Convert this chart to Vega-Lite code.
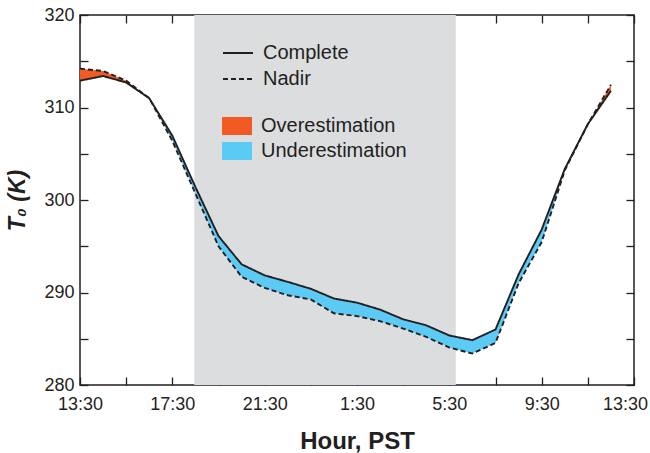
{
  "$schema": "https://vega.github.io/schema/vega-lite/v6.json",
  "width": 554,
  "height": 370,
  "autosize": {"type": "none"},
  "padding": {"left": 80, "top": 15, "right": 16, "bottom": 68},
  "background": "white",
  "config": {
    "font": "Liberation Sans",
    "view": {"stroke": "#231f20", "strokeWidth": 1.5},
    "axis": {"grid": false, "domain": false, "tickColor": "#231f20", "tickWidth": 1.3, "tickSize": -8, "labelColor": "#231f20", "titleColor": "#231f20", "labelFontSize": 18, "titleFontSize": 24, "titleFontWeight": "bold"},
    "legend": {"labelFontSize": 20, "labelColor": "#231f20", "padding": 0, "offset": 0}
  },
  "datasets": {
    "temps": [
      {"hour": 0, "Complete": 312.9, "Nadir": 314.2},
      {"hour": 1, "Complete": 313.4, "Nadir": 313.95},
      {"hour": 2, "Complete": 312.7, "Nadir": 312.9},
      {"hour": 3, "Complete": 311.0, "Nadir": 311.0},
      {"hour": 4, "Complete": 306.95, "Nadir": 306.4},
      {"hour": 5, "Complete": 301.4, "Nadir": 300.7},
      {"hour": 6, "Complete": 296.1, "Nadir": 295.0},
      {"hour": 7, "Complete": 293.05, "Nadir": 291.7},
      {"hour": 8, "Complete": 291.85, "Nadir": 290.5},
      {"hour": 9, "Complete": 291.15, "Nadir": 289.7},
      {"hour": 10, "Complete": 290.4, "Nadir": 289.25},
      {"hour": 11, "Complete": 289.35, "Nadir": 287.75},
      {"hour": 12, "Complete": 288.9, "Nadir": 287.45},
      {"hour": 13, "Complete": 288.15, "Nadir": 286.9},
      {"hour": 14, "Complete": 287.1, "Nadir": 286.1},
      {"hour": 15, "Complete": 286.45, "Nadir": 285.2},
      {"hour": 16, "Complete": 285.35, "Nadir": 284.05},
      {"hour": 17, "Complete": 284.85, "Nadir": 283.4},
      {"hour": 18, "Complete": 286.0, "Nadir": 284.55},
      {"hour": 19, "Complete": 291.95, "Nadir": 291.0},
      {"hour": 20, "Complete": 296.8, "Nadir": 295.45},
      {"hour": 21, "Complete": 303.35, "Nadir": 303.2},
      {"hour": 22, "Complete": 308.2, "Nadir": 308.2},
      {"hour": 23, "Complete": 311.8, "Nadir": 312.45}
    ],
    "night": [{"start": 4.95, "end": 16.28}]
  },
  "layer": [
    {
      "layer": [
        {
          "data": {"name": "night"},
          "mark": {"type": "rect", "color": "#dcdddf"},
          "encoding": {
            "x": {"field": "start", "type": "quantitative", "scale": {"domain": [0, 24], "nice": false, "zero": false},
              "axis": {"values": [0, 2, 4, 6, 8, 10, 12, 14, 16, 18, 20, 22, 24], "labelExpr": "datum.value % 4 == 0 ? ((13 + datum.value) % 24) + ':30' : ''", "title": "Hour, PST", "labelPadding": 18, "titlePadding": 16, "labelFlush": false,
                "labelOffset": {"condition": {"test": "datum.value == 24", "value": -9}, "value": 0}}},
            "x2": {"field": "end"},
            "y": {"datum": 320, "type": "quantitative", "scale": {"domain": [280, 320], "nice": false, "zero": false},
              "axis": {"values": [280, 285, 290, 295, 300, 305, 310, 315, 320], "labelExpr": "datum.value % 10 == 0 ? datum.label : ''", "title": "T₀ (K)", "titleFontStyle": "italic", "titleFontSize": 23, "labelPadding": 14, "titlePadding": 14, "labelFlush": false}},
            "y2": {"datum": 280}
          }
        },
        {
          "data": {"name": "temps"},
          "transform": [{"filter": "datum.hour <= 3"}],
          "mark": {"type": "area", "opacity": 1},
          "encoding": {
            "x": {"field": "hour", "type": "quantitative"},
            "y": {"field": "Complete", "type": "quantitative"},
            "y2": {"field": "Nadir"},
            "color": {"datum": "Overestimation", "type": "nominal", "scale": {"domain": ["Overestimation", "Underestimation"], "range": ["#f15a22", "#5bcbf5"]},
              "legend": {"title": null, "orient": "none", "legendX": 142, "legendY": 96, "symbolType": "M-1,-0.6H1V0.6H-1Z", "symbolSize": 900, "symbolStrokeWidth": 0, "symbolOpacity": 1, "labelOffset": 9, "rowPadding": 0}}
          }
        },
        {
          "data": {"name": "temps"},
          "transform": [{"filter": "datum.hour >= 22"}],
          "mark": {"type": "area", "opacity": 1},
          "encoding": {
            "x": {"field": "hour", "type": "quantitative"},
            "y": {"field": "Complete", "type": "quantitative"},
            "y2": {"field": "Nadir"},
            "color": {"datum": "Overestimation", "type": "nominal"}
          }
        },
        {
          "data": {"name": "temps"},
          "transform": [{"filter": "datum.hour >= 3 && datum.hour <= 22"}],
          "mark": {"type": "area", "opacity": 1},
          "encoding": {
            "x": {"field": "hour", "type": "quantitative"},
            "y": {"field": "Complete", "type": "quantitative"},
            "y2": {"field": "Nadir"},
            "color": {"datum": "Underestimation", "type": "nominal"}
          }
        },
        {
          "data": {"name": "temps"},
          "transform": [{"fold": ["Complete", "Nadir"], "as": ["series", "T"]}],
          "mark": {"type": "line", "color": "#231f20", "strokeWidth": 1.9},
          "encoding": {
            "x": {"field": "hour", "type": "quantitative"},
            "y": {"field": "T", "type": "quantitative"},
            "strokeDash": {"field": "series", "type": "nominal", "scale": {"domain": ["Complete", "Nadir"], "range": [[1, 0], [5, 3]]},
              "legend": {"title": null, "orient": "none", "legendX": 142, "legendY": 22, "symbolType": "stroke", "symbolSize": 900, "symbolStrokeWidth": 1.9, "symbolStrokeColor": "#231f20", "labelOffset": 9, "rowPadding": 0}}
          }
        }
      ]
    },
    {
      "data": {"name": "temps"},
      "mark": {"type": "point", "opacity": 0},
      "encoding": {
        "x": {"field": "hour", "type": "quantitative", "axis": {"orient": "top", "values": [0, 2, 4, 6, 8, 10, 12, 14, 16, 18, 20, 22, 24], "labels": false, "title": null}},
        "y": {"field": "Complete", "type": "quantitative", "axis": {"orient": "right", "values": [280, 285, 290, 295, 300, 305, 310, 315, 320], "labels": false, "title": null}}
      }
    }
  ],
  "resolve": {"axis": {"x": "independent", "y": "independent"}}
}
